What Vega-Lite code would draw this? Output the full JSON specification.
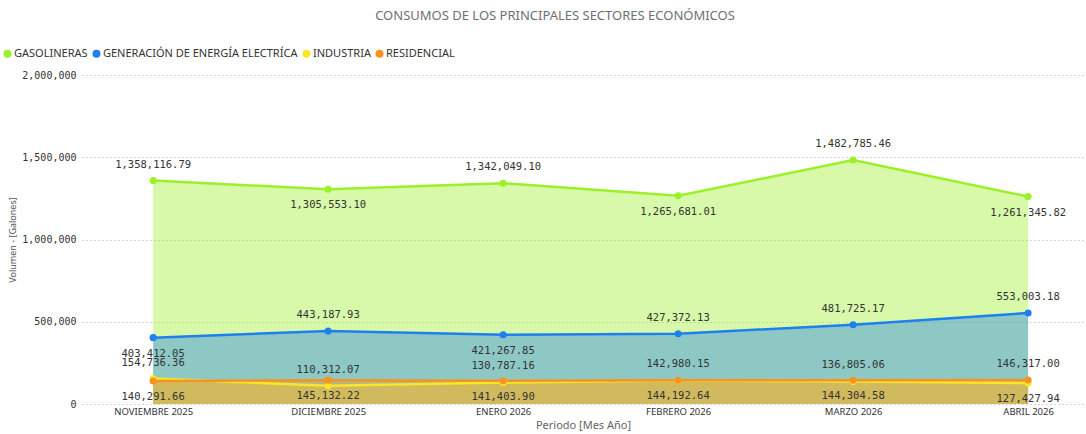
{
  "$schema": "https://vega.github.io/schema/vega-lite/v6.json",
  "autosize": {"type": "none"},
  "width": 1002,
  "height": 329,
  "padding": {"left": 82, "top": 75, "right": 2, "bottom": 30},
  "background": "white",
  "title": {
    "text": "CONSUMOS DE LOS PRINCIPALES SECTORES ECONÓMICOS",
    "font": "Noto Sans",
    "fontSize": 13,
    "fontWeight": "normal",
    "color": "#6b7075",
    "anchor": "middle",
    "dx": -28,
    "offset": 25
  },
  "data": {
    "values": [
      {"mes": "NOVIEMBRE 2025", "sector": "GASOLINERAS", "valor": 1358116.79},
      {"mes": "DICIEMBRE 2025", "sector": "GASOLINERAS", "valor": 1305553.10},
      {"mes": "ENERO 2026", "sector": "GASOLINERAS", "valor": 1342049.10},
      {"mes": "FEBRERO 2026", "sector": "GASOLINERAS", "valor": 1265681.01},
      {"mes": "MARZO 2026", "sector": "GASOLINERAS", "valor": 1482785.46},
      {"mes": "ABRIL 2026", "sector": "GASOLINERAS", "valor": 1261345.82},
      {"mes": "NOVIEMBRE 2025", "sector": "GENERACIÓN DE ENERGÍA ELECTRÍCA", "valor": 403412.05},
      {"mes": "DICIEMBRE 2025", "sector": "GENERACIÓN DE ENERGÍA ELECTRÍCA", "valor": 443187.93},
      {"mes": "ENERO 2026", "sector": "GENERACIÓN DE ENERGÍA ELECTRÍCA", "valor": 421267.85},
      {"mes": "FEBRERO 2026", "sector": "GENERACIÓN DE ENERGÍA ELECTRÍCA", "valor": 427372.13},
      {"mes": "MARZO 2026", "sector": "GENERACIÓN DE ENERGÍA ELECTRÍCA", "valor": 481725.17},
      {"mes": "ABRIL 2026", "sector": "GENERACIÓN DE ENERGÍA ELECTRÍCA", "valor": 553003.18},
      {"mes": "NOVIEMBRE 2025", "sector": "INDUSTRIA", "valor": 154736.36},
      {"mes": "DICIEMBRE 2025", "sector": "INDUSTRIA", "valor": 110312.07},
      {"mes": "ENERO 2026", "sector": "INDUSTRIA", "valor": 130787.16},
      {"mes": "FEBRERO 2026", "sector": "INDUSTRIA", "valor": 142980.15},
      {"mes": "MARZO 2026", "sector": "INDUSTRIA", "valor": 136805.06},
      {"mes": "ABRIL 2026", "sector": "INDUSTRIA", "valor": 127427.94},
      {"mes": "NOVIEMBRE 2025", "sector": "RESIDENCIAL", "valor": 140291.66},
      {"mes": "DICIEMBRE 2025", "sector": "RESIDENCIAL", "valor": 145132.22},
      {"mes": "ENERO 2026", "sector": "RESIDENCIAL", "valor": 141403.90},
      {"mes": "FEBRERO 2026", "sector": "RESIDENCIAL", "valor": 144192.64},
      {"mes": "MARZO 2026", "sector": "RESIDENCIAL", "valor": 144304.58},
      {"mes": "ABRIL 2026", "sector": "RESIDENCIAL", "valor": 146317.00}
    ]
  },
  "encoding": {
    "x": {
      "field": "mes",
      "type": "ordinal",
      "sort": null,
      "scale": {"type": "point", "padding": 0.363, "align": 0.56},
      "axis": {
        "title": "Periodo [Mes Año]",
        "titleFont": "Noto Sans",
        "titleFontSize": 11,
        "titleFontWeight": "normal",
        "titleColor": "#666666",
        "titlePadding": 4,
        "labelFont": "Noto Sans",
        "labelFontSize": 9.5,
        "labelColor": "#333333",
        "labelAngle": 0,
        "labelPadding": 2,
        "ticks": false,
        "domain": false,
        "grid": false
      }
    },
    "y": {
      "field": "valor",
      "type": "quantitative",
      "stack": null,
      "scale": {"domain": [0, 2000000], "nice": false},
      "axis": {
        "title": "Volumen - [Galones]",
        "titleFont": "Noto Sans",
        "titleFontSize": 9,
        "titleFontWeight": "normal",
        "titleColor": "#555555",
        "titlePadding": 4,
        "values": [0, 500000, 1000000, 1500000, 2000000],
        "format": ",d",
        "labelFont": "DejaVu Sans Mono",
        "labelFontSize": 10,
        "labelColor": "#333333",
        "labelPadding": 6,
        "ticks": false,
        "domain": false,
        "grid": true,
        "gridColor": "#aaaaaa",
        "gridDash": [1, 3],
        "gridWidth": 1
      }
    },
    "color": {
      "field": "sector",
      "type": "nominal",
      "scale": {
        "domain": ["GASOLINERAS", "GENERACIÓN DE ENERGÍA ELECTRÍCA", "INDUSTRIA", "RESIDENCIAL"],
        "range": ["#9cf028", "#1f7fef", "#f7e62a", "#f7931e"]
      },
      "legend": {
        "title": null,
        "orient": "none",
        "legendX": -80,
        "legendY": -27,
        "direction": "horizontal",
        "symbolType": "circle",
        "symbolSize": 64,
        "symbolStrokeWidth": 0,
        "symbolOpacity": 1,
        "labelFont": "Noto Sans",
        "labelFontSize": 11,
        "labelColor": "#333333",
        "labelLimit": 400,
        "labelOffset": 1,
        "columnPadding": 3
      }
    }
  },
  "layer": [
    {"mark": {"type": "area", "opacity": 0.4, "line": false}},
    {"mark": {"type": "line", "strokeWidth": 2.5}},
    {"mark": {"type": "point", "filled": true, "size": 50, "opacity": 1}},
    {
      "transform": [{"filter": "(datum.sector=='GASOLINERAS' && indexof(['NOVIEMBRE 2025','ENERO 2026','MARZO 2026'], datum.mes)>=0) || (datum.sector=='GENERACIÓN DE ENERGÍA ELECTRÍCA' && datum.mes!='NOVIEMBRE 2025' && datum.mes!='ENERO 2026') || (datum.sector=='INDUSTRIA' && datum.mes!='ABRIL 2026') || (datum.sector=='RESIDENCIAL' && datum.mes=='ABRIL 2026')"}],
      "mark": {"type": "text", "dy": -16, "font": "DejaVu Sans Mono", "fontSize": 10.5, "color": "#333333"},
      "encoding": {"text": {"field": "valor", "type": "quantitative", "format": ",.2f"}, "color": {"value": "#333333"}}
    },
    {
      "transform": [{"filter": "!((datum.sector=='GASOLINERAS' && indexof(['NOVIEMBRE 2025','ENERO 2026','MARZO 2026'], datum.mes)>=0) || (datum.sector=='GENERACIÓN DE ENERGÍA ELECTRÍCA' && datum.mes!='NOVIEMBRE 2025' && datum.mes!='ENERO 2026') || (datum.sector=='INDUSTRIA' && datum.mes!='ABRIL 2026') || (datum.sector=='RESIDENCIAL' && datum.mes=='ABRIL 2026'))"}],
      "mark": {"type": "text", "dy": 16, "font": "DejaVu Sans Mono", "fontSize": 10.5, "color": "#333333"},
      "encoding": {"text": {"field": "valor", "type": "quantitative", "format": ",.2f"}, "color": {"value": "#333333"}}
    }
  ],
  "config": {"view": {"stroke": null}}
}
